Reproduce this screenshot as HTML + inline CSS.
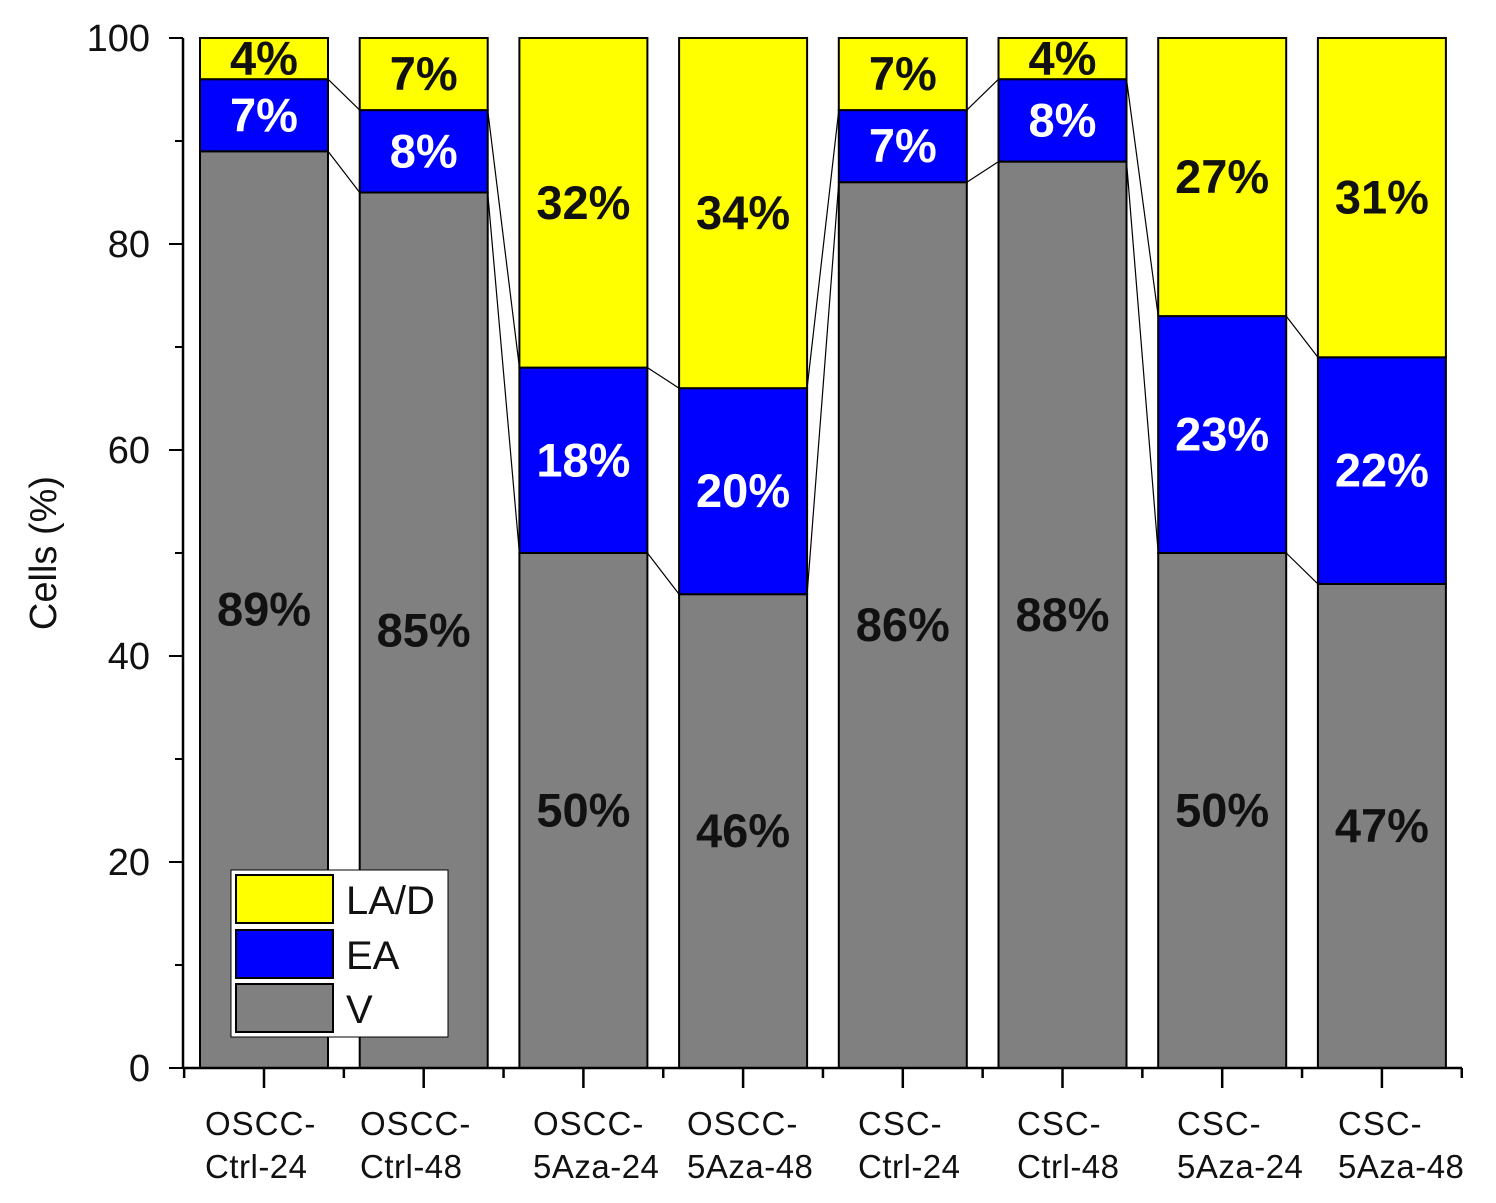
<!DOCTYPE html>
<html><head><meta charset="utf-8"><style>
html,body{margin:0;padding:0;background:#fff;}
svg{display:block;font-family:"Liberation Sans",Arial,sans-serif;}
</style></head><body>
<svg id="chart" width="1496" height="1203" viewBox="0 0 1496 1203">
<rect x="0" y="0" width="1496" height="1203" fill="#fff"/>
<g id="bars"></g>
<g id="links"></g>
<g id="vlabels"></g>
<g id="axes"></g>
<text x="56" y="553" font-size="38" text-anchor="middle" transform="rotate(-90 56 553)" fill="#111">Cells (%)</text>
<g>
<rect x="231" y="870" width="217" height="167" fill="#fff" stroke="#000" stroke-width="1"/>
<g><rect x="236" y="875" width="97" height="48" fill="#ffff00" stroke="#000" stroke-width="2"/><text x="346" y="914" font-size="40" fill="#111">LA/D</text></g>
<g><rect x="236" y="930" width="97" height="48" fill="#0000ff" stroke="#000" stroke-width="2"/><text x="346" y="969" font-size="40" fill="#111">EA</text></g>
<g><rect x="236" y="984" width="97" height="48" fill="#808080" stroke="#000" stroke-width="2"/><text x="346" y="1023" font-size="40" fill="#111">V</text></g>
</g>
</svg>
<script>
const categories1 = ["OSCC-","OSCC-","OSCC-","OSCC-","CSC-","CSC-","CSC-","CSC-"];
const categories2 = ["Ctrl-24","Ctrl-48","5Aza-24","5Aza-48","Ctrl-24","Ctrl-48","5Aza-24","5Aza-48"];
const vValues = [89,85,50,46,86,88,50,47];
const eaValues = [7,8,18,20,7,8,23,22];
const ladValues = [4,7,32,34,7,4,27,31];
const yTicks = [0,20,40,60,80,100];
const NS="http://www.w3.org/2000/svg";
const x0=183,x1=1462,yBase=1068,yTop=38;
const y=v=>yBase-(v/100)*(yBase-yTop);
const step=159.7, bw=128, firstC=264;
const cx=i=>firstC+i*step;
const labelX=[205,360,533,687,858,1017,1177,1338];
function mk(tag,attrs,parent){const e=document.createElementNS(NS,tag);for(const k in attrs)e.setAttribute(k,attrs[k]);parent.appendChild(e);return e;}
const gB=document.getElementById('bars'),gL=document.getElementById('links'),gT=document.getElementById('vlabels'),gA=document.getElementById('axes');
const series=[{vals:vValues,fill:'#808080',tc:'#111',n:'v'},{vals:eaValues,fill:'#0000ff',tc:'#fff',n:'ea'},{vals:ladValues,fill:'#ffff00',tc:'#111',n:'lad'}];
for(let i=0;i<categories2.length;i++){
  let base=0;
  series.forEach(s=>{
    const v=s.vals[i];
    const r=mk('rect',{x:cx(i)-bw/2,y:y(base+v),width:bw,height:y(base)-y(base+v),fill:s.fill,stroke:'#000','stroke-width':2},gB);
    
    
    const t=mk('text',{x:cx(i),y:(y(base)+y(base+v))/2+16,'font-size':47,'font-weight':'bold','text-anchor':'middle',fill:s.tc},gT);
    t.textContent=v+'%';
    
    
    base+=v;
  });
  if(i<categories2.length-1){
    const b1=[vValues[i],vValues[i]+eaValues[i]],b2=[vValues[i+1],vValues[i+1]+eaValues[i+1]];
    for(let k=0;k<2;k++){
      const l=mk('line',{x1:cx(i)+bw/2,y1:y(b1[k]),x2:cx(i+1)-bw/2,y2:y(b2[k]),stroke:'#000','stroke-width':1.2},gL);
      
      
    }
  }
}
mk('line',{x1:x0,y1:yTop,x2:x0,y2:yBase,stroke:'#000','stroke-width':2.5},gA);
mk('line',{x1:x0,y1:yBase,x2:x1,y2:yBase,stroke:'#000','stroke-width':2.5},gA);
for(let v=0;v<=100;v+=10){
  const major=v%20===0;
  mk('line',{x1:x0-(major?14:8),y1:y(v),x2:x0,y2:y(v),stroke:'#000','stroke-width':2},gA);
}
yTicks.forEach(v=>{
  const t=mk('text',{x:150,y:y(v)+13,'font-size':38,'text-anchor':'end',fill:'#111'},gA);
  t.textContent=v;
  
  
});
for(let i=0;i<categories2.length;i++){
  mk('line',{x1:cx(i),y1:yBase,x2:cx(i),y2:yBase+20,stroke:'#000','stroke-width':2.5},gA);
  mk('line',{x1:cx(i)+step/2,y1:yBase,x2:cx(i)+step/2,y2:yBase+10,stroke:'#000','stroke-width':2.5},gA);
  const t=mk('text',{x:labelX[i],y:1135,'font-size':33,'letter-spacing':1,fill:'#111'},gA);
  t.textContent=categories1[i];
  
  
  const t2=mk('text',{x:labelX[i],y:1178,'font-size':33,'letter-spacing':0.5,fill:'#111'},gA);
  t2.textContent=categories2[i];
  
  
}
mk('line',{x1:firstC-step/2,y1:yBase,x2:firstC-step/2,y2:yBase+10,stroke:'#000','stroke-width':2.5},gA);
</script>
</body></html>
